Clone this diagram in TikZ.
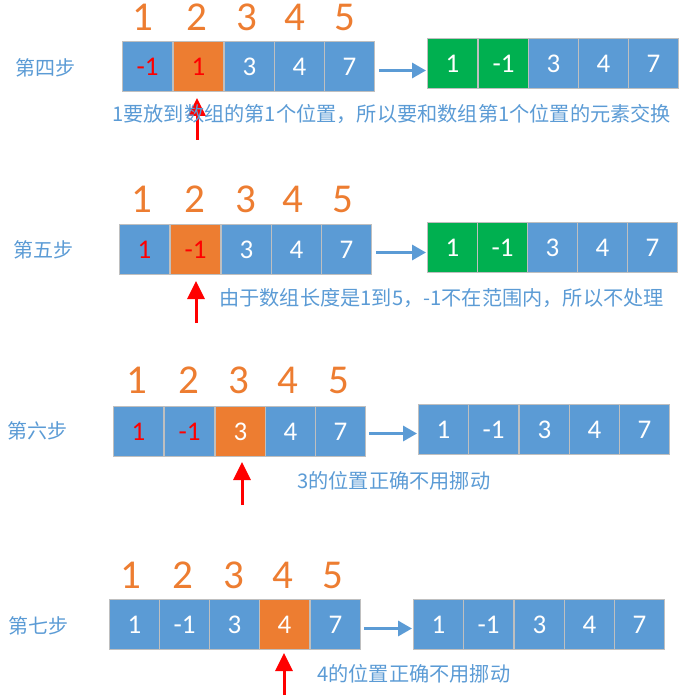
\documentclass[tikz,border=0pt]{standalone}
\usepackage{fontspec}
\setmainfont{Carlito}
\newfontfamily\cjk{Noto Sans CJK SC}
\usetikzlibrary{arrows.meta}
\definecolor{cblue}{HTML}{5B9BD5}
\definecolor{corange}{HTML}{ED7D31}
\definecolor{cgreen}{HTML}{00B050}
\definecolor{cgray}{HTML}{BFBFBF}
\definecolor{cred}{HTML}{FF0000}
\tikzset{
  cell/.style={draw=cgray, line width=1pt, fill=cblue, minimum width=50pt, minimum height=50pt,
    inner sep=0pt, anchor=north west, text=white, font=\fontsize{27}{27}\selectfont},
  pl/.style={},
  rt/.style={text=cred},
  og/.style={fill=corange},
  ogr/.style={fill=corange,text=cred},
  gr/.style={fill=cgreen},
  idx/.style={text=corange, font=\fontsize{41}{41}\selectfont, inner sep=0pt},
  steplab/.style={text=cblue, font=\cjk\fontsize{20}{20}\selectfont, anchor=west, inner sep=0pt},
  note/.style={text=cblue, font=\cjk\fontsize{20.2}{20.2}\selectfont, anchor=west, inner sep=0pt},
  barrow/.style={draw=cblue, line width=3.2pt, -{Triangle[length=14pt,width=15pt]}},
  rarrow/.style={draw=cred, line width=3pt, -{Triangle[length=18pt,width=17pt]}}
}
\begin{document}
\begin{tikzpicture}[x=1pt,y=-1pt]
\useasboundingbox (0,0) rectangle (687,700);
% ---------- row 1 : 第四步
\node[steplab] (s1) at (15,68) {第四步};
\foreach \x/\v/\s [count=\i] in {122/-1/rt,173/1/ogr,224/3/pl,274/4/pl,324/7/pl}
  \node[cell,\s] (r1a\i) at (\x,41) {\v};
\foreach \x/\v/\s [count=\i] in {427/1/gr,478/-1/gr,528/3/pl,578/4/pl,628/7/pl}
  \node[cell,\s] (r1b\i) at (\x,38) {\v};
\foreach \x [count=\i] in {143,197,247,295,345}
  \node[idx] (r1i\i) at (\x,17) {\i};
\draw[barrow, shorten <=4pt, shorten >=1pt] ([yshift=-4pt]r1a5.east) -- ([yshift=-4pt]r1a5.east -| r1b1.west);
\coordinate (r1f) at (197,140);
\draw[rarrow, shorten >=6pt] (r1f) -- (r1f |- r1a2.south);
\node[note] (t1) at (112,114) {1要放到数组的第1个位置，所以要和数组第1个位置的元素交换};
% ---------- row 2 : 第五步
\node[steplab] (s2) at (13,250) {第五步};
\foreach \x/\v/\s [count=\i] in {119/1/rt,170/-1/ogr,221/3/pl,271/4/pl,321/7/pl}
  \node[cell,\s] (r2a\i) at (\x,224) {\v};
\foreach \x/\v/\s [count=\i] in {427/1/gr,477/-1/gr,527/3/pl,577/4/pl,627/7/pl}
  \node[cell,\s] (r2b\i) at (\x,222) {\v};
\foreach \x [count=\i] in {142,195,246,293,343}
  \node[idx] (r2i\i) at (\x,199) {\i};
\draw[barrow, shorten <=4pt, shorten >=1pt] ([yshift=-3pt]r2a5.east) -- ([yshift=-3pt]r2a5.east -| r2b1.west);
\coordinate (r2f) at (196,323);
\draw[rarrow, shorten >=6pt] (r2f) -- (r2f |- r2a2.south);
\node[note] (t2) at (219,298) {由于数组长度是1到5，-1不在范围内，所以不处理};
% ---------- row 3 : 第六步
\node[steplab] (s3) at (7,431) {第六步};
\foreach \x/\v/\s [count=\i] in {113/1/rt,164/-1/rt,215/3/og,265/4/pl,315/7/pl}
  \node[cell,\s] (r3a\i) at (\x,406) {\v};
\foreach \x/\v/\s [count=\i] in {418/1/pl,468/-1/pl,519/3/pl,569/4/pl,619/7/pl}
  \node[cell,\s] (r3b\i) at (\x,404) {\v};
\foreach \x [count=\i] in {137,189,239,288,339}
  \node[idx] (r3i\i) at (\x,380) {\i};
\draw[barrow, shorten <=3pt, shorten >=1pt] ([yshift=-2pt]r3a5.east) -- ([yshift=-2pt]r3a5.east -| r3b1.west);
\coordinate (r3f) at (242,505);
\draw[rarrow, shorten >=5pt] (r3f) -- (r3f |- r3a3.south);
\node[note] (t3) at (297,481) {3的位置正确不用挪动};
% ---------- row 4 : 第七步
\node[steplab] (s4) at (8,626) {第七步};
\foreach \x/\v/\s [count=\i] in {109/1/pl,159/-1/pl,209/3/pl,259/4/og,310/7/pl}
  \node[cell,\s] (r4a\i) at (\x,599) {\v};
\foreach \x/\v/\s [count=\i] in {413/1/pl,463/-1/pl,514/3/pl,564/4/pl,614/7/pl}
  \node[cell,\s] (r4b\i) at (\x,599) {\v};
\foreach \x [count=\i] in {131,183,234,283,333}
  \node[idx] (r4i\i) at (\x,575) {\i};
\draw[barrow, shorten <=3pt, shorten >=1pt] ([yshift=-4pt]r4a5.east) -- ([yshift=-4pt]r4a5.east -| r4b1.west);
\coordinate (r4f) at (284,695);
\draw[rarrow, shorten >=3pt] (r4f) -- (r4f |- r4a4.south);
\node[note] (t4) at (317,674) {4的位置正确不用挪动};
\end{tikzpicture}
\end{document}
